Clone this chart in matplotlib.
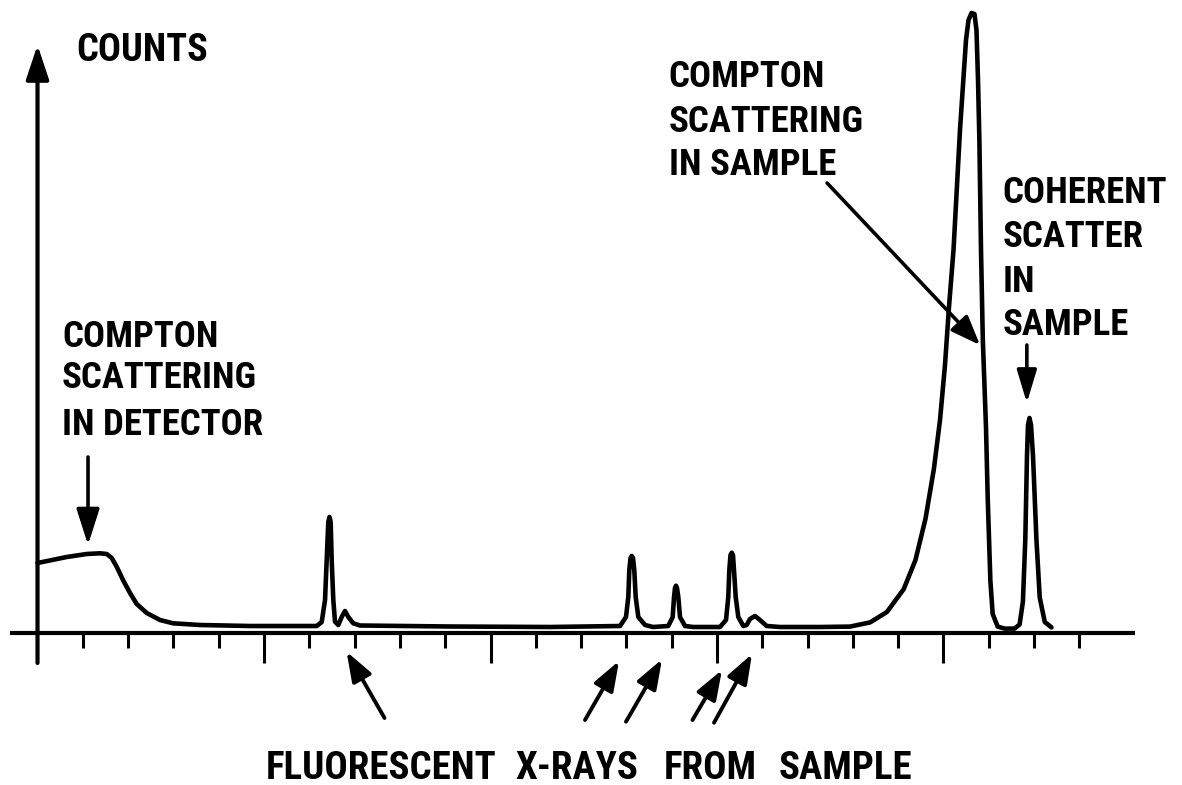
import numpy as np
import matplotlib
matplotlib.use('Agg')
import matplotlib.pyplot as plt

# Traced spectrum (channel, counts), counts in arbitrary units
channel = np.array([0.0, 6.45, 10.86, 13.80, 15.28, 16.38, 17.48, 18.87, 20.42, 21.90,
                    24.11, 27.04, 29.91, 35.87, 46.91, 61.63, 62.74, 63.47, 63.84, 64.19,
                    64.46, 64.72, 64.94, 65.30, 65.67, 66.40, 67.15, 67.88, 68.61, 69.71,
                    71.19, 91.06, 113.13, 128.59, 129.91, 130.42, 130.64, 130.91, 131.17, 131.46,
                    131.74, 132.05, 132.63, 134.11, 135.87, 139.25, 140.22, 140.51, 140.73, 140.95,
                    141.17, 141.46, 141.83, 142.94, 144.77, 150.66, 151.99, 152.49, 152.72, 152.98,
                    153.25, 153.53, 153.75, 154.13, 154.70, 155.81, 156.56, 157.28, 158.39, 159.49,
                    160.97, 163.91, 172.74, 179.36, 183.80, 187.51, 191.21, 193.80, 196.03, 197.88,
                    199.23, 200.33, 201.21, 202.21, 203.64, 204.97, 205.52, 206.18, 206.84, 207.28,
                    207.62, 207.92, 208.28, 208.68, 209.38, 209.76, 210.35, 210.86, 211.96, 213.47,
                    215.67, 216.80, 217.53, 218.06, 218.43, 218.65, 218.98, 219.32, 219.76, 220.51,
                    221.24, 222.36, 223.84])
counts = np.array([70, 76, 79, 79.7, 79, 75, 66.3, 53, 40, 29,
                   20, 13, 9.7, 8, 7, 7, 11, 33, 73, 111,
                   116, 111, 73, 33, 11.3, 8, 16, 22, 16, 9.7,
                   7.5, 6.5, 6, 7, 16, 36, 63, 75, 77, 75,
                   63, 36, 16, 8, 6, 7, 16, 36, 45, 47.3,
                   45, 36, 16, 7, 6, 6, 13, 36, 63, 78,
                   80.3, 78, 63, 36, 16, 7, 8, 14, 17, 13,
                   7, 6, 6, 6.4, 10.6, 21, 43.8, 72.8, 114.3, 164.1,
                   213, 268, 326, 383, 503, 593, 613, 620, 619, 603,
                   553, 493, 383, 293, 206, 135, 52, 19, 6.4, 4.4,
                   4.4, 8.5, 31.3, 94, 177, 208, 215, 208, 177, 94,
                   35.5, 11, 5.6])

tick_pos = np.arange(0, 240, 10)
major_ticks = tick_pos[tick_pos % 50 == 0]
minor_ticks = tick_pos[tick_pos % 50 != 0]

# condensed bold face if one is installed
FONT = ['Noto Sans ExtraCondensed', 'Noto Sans Condensed', 'DejaVu Sans Condensed',
        'Roboto Condensed', 'DejaVu Sans']

fig = plt.figure(figsize=(11.82, 7.85), dpi=100)
ax = fig.add_axes([0, 0, 1, 1])
ax.set_xlim(-8.28, 252.65)
ax.set_ylim(-152, 633)
ax.axis('off')

# axes
ax.plot([-6.07, 242.3], [0, 0], color='black', lw=3, solid_capstyle='butt')
ax.vlines(minor_ticks, -15, 0, color='black', lw=2.2)
ax.vlines(major_ticks[1:], -30, 0, color='black', lw=2.2)
ax.annotate('', xy=(0, 588), xytext=(0, -30),
            arrowprops=dict(arrowstyle='-|>,head_length=21,head_width=7',
                            mutation_scale=1, lw=3, color='black',
                            shrinkA=0, shrinkB=0))

# spectrum
ax.plot(channel, counts, color='black', lw=3.3,
        solid_joinstyle='round', solid_capstyle='round')


def label(x, y, s, size=26.5):
    ax.text(x, y, s, family=FONT, fontweight='bold', fontstretch='condensed',
            fontsize=size, ha='left', va='baseline', color='black')


def arrow(tail, tip, hl=18, hw=6, lw=2.6):
    ax.annotate('', xy=tip, xytext=tail,
                arrowprops=dict(arrowstyle=f'-|>,head_length={hl},head_width={hw}',
                                mutation_scale=1, lw=lw, color='black',
                                shrinkA=0, shrinkB=0))


label(8.5, 572, 'COUNTS', 27.5)

label(5.4, 286, 'COMPTON')
label(5.4, 245, 'SCATTERING')
label(5.4, 198, 'IN DETECTOR')
arrow((11.15, 176), (11.15, 88), hl=22, hw=7)

label(139.3, 546, 'COMPTON')
label(139.3, 501, 'SCATTERING')
label(139.3, 458, 'IN SAMPLE')
arrow((174.3, 450), (208.05, 288), hl=18, hw=7)

label(213.1, 430, 'COHERENT')
label(213.1, 386, 'SCATTER')
label(213.1, 341, 'IN')
label(213.1, 298, 'SAMPLE')
arrow((218.4, 288), (218.4, 230), hl=20, hw=6)

# fluorescent lines
arrow((76.6, -85), (68.23, -18.7), hl=18, hw=6.5, lw=2.8)
arrow((120.86, -87), (128.37, -28), hl=18, hw=6.5, lw=2.8)
arrow((129.91, -88.7), (137.86, -26.3), hl=18, hw=6.5, lw=2.8)
arrow((144.59, -87), (151.1, -37), hl=18, hw=6.5, lw=2.8)
arrow((149.34, -89.7), (157.73, -21), hl=18, hw=6.5, lw=2.8)
for wx, word in zip([50.4, 105.4, 138.3, 163.7],
                    ['FLUORESCENT', 'X-RAYS', 'FROM', 'SAMPLE']):
    label(wx, -146, word, 28)

fig.savefig('out.png', dpi=100)
